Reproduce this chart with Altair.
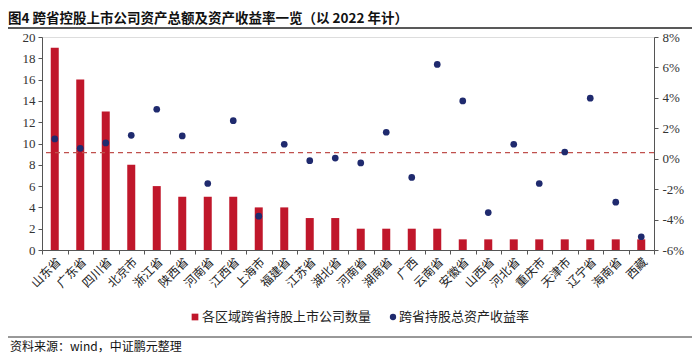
import altair as alt
import pandas as pd

provinces = ["山东省", "广东省", "四川省", "北京市", "浙江省", "陕西省", "河南省", "江西省",
             "上海市", "福建省", "江苏省", "湖北省", "河南省", "湖南省", "广西", "云南省",
             "安徽省", "山西省", "河北省", "重庆市", "天津市", "辽宁省", "海南省", "西藏"]
counts = [19, 16, 13, 8, 6, 5, 5, 5, 4, 4, 3, 3, 2, 2, 2, 2, 1, 1, 1, 1, 1, 1, 1, 1]
rates = [0.013, 0.0068, 0.0104, 0.0154, 0.0325, 0.015, -0.0163, 0.025,
         -0.0378, 0.0095, -0.0013, 0.0004, -0.0028, 0.0174, -0.0123, 0.062,
         0.038, -0.0354, 0.0095, -0.0163, 0.0044, 0.0398, -0.0286, -0.0513]
avg_rate = [0.004]
left_ticks = [0, 2, 4, 6, 8, 10, 12, 14, 16, 18, 20]
right_ticks = [-0.06, -0.04, -0.02, 0.0, 0.02, 0.04, 0.06, 0.08]
legend_names = ["各区域跨省持股上市公司数量", "跨省持股总资产收益率"]
title_text = "图4  跨省控股上市公司资产总额及资产收益率一览（以 2022 年计）"
source_text = "资料来源：wind，中证鹏元整理"

RED = "#C0172B"
NAVY = "#1F2A6E"
CJK = "Noto Sans CJK SC"
SERIF = "Liberation Serif"

df = pd.DataFrame({"idx": list(range(len(provinces))), "name": provinces,
                   "count": counts, "rate": rates})
avg_df = pd.DataFrame({"avg": avg_rate})
one = pd.DataFrame({"a": [0]})

label_expr = "[" + ",".join("'%s'" % p for p in provinces) + "][datum.value]"
x_axis = alt.Axis(title=None, labelExpr=label_expr, labelAngle=-45, labelAlign="right",
                  labelBaseline="top", labelFont=CJK, labelFontSize=12, labelColor="#222",
                  tickBand="extent", tickSize=4, domainColor="#555", tickColor="#555",
                  labelPadding=2)
x_enc = alt.X("idx:O", axis=x_axis, scale=alt.Scale(paddingInner=0, paddingOuter=0))

bars = alt.Chart(df).mark_bar(color=RED, size=8).encode(
    x=x_enc,
    y=alt.Y("count:Q", scale=alt.Scale(domain=[0, 20], nice=False),
            axis=alt.Axis(title=None, values=left_ticks, grid=False, labelFont=SERIF,
                          labelFontSize=13, labelColor="#333", domainColor="#555",
                          tickColor="#555", tickSize=4, labelPadding=3)),
)

r_axis = alt.Axis(title=None, orient="right", values=right_ticks,
                  labelExpr="replace(format(datum.value, '.0%'), '\u2212', '-')", grid=False,
                  labelFont=SERIF, labelFontSize=13, labelColor="#333", domainColor="#555",
                  tickColor="#555", tickSize=4, labelPadding=4)
r_scale = alt.Scale(domain=[-0.06, 0.08], nice=False)

rule = alt.Chart(avg_df).mark_rule(color="#C0504D", strokeDash=[5, 4], strokeWidth=1.2).encode(
    y=alt.Y("avg:Q", scale=r_scale, axis=r_axis)
)
points = alt.Chart(df).mark_circle(color=NAVY, size=45, opacity=1).encode(
    x=x_enc,
    y=alt.Y("rate:Q", scale=r_scale, axis=r_axis),
)
right_layer = alt.layer(rule, points)

title = alt.Chart(pd.DataFrame({"t": [title_text]})).mark_text(
    align="left", baseline="middle", font=CJK, fontSize=13.5, fontWeight="bold", color="#111"
).encode(x=alt.value(-34), y=alt.value(-18), text="t:N")
title_line = alt.Chart(one).mark_rule(color="#222", strokeWidth=1.5).encode(
    x=alt.value(-34), x2=alt.value(650), y=alt.value(-9))
foot_line = alt.Chart(one).mark_rule(color="#333", strokeWidth=1).encode(
    x=alt.value(-34), x2=alt.value(650), y=alt.value(300))
foot = alt.Chart(pd.DataFrame({"t": [source_text]})).mark_text(
    align="left", baseline="middle", font=CJK, fontSize=12, color="#111"
).encode(x=alt.value(-32), y=alt.value(310), text="t:N")

leg_sq = alt.Chart(one).mark_square(color=RED, size=45, opacity=1).encode(
    x=alt.value(153), y=alt.value(280))
leg_t1 = alt.Chart(pd.DataFrame({"t": [legend_names[0]]})).mark_text(
    align="left", baseline="middle", font=CJK, fontSize=13, color="#222"
).encode(x=alt.value(160), y=alt.value(280), text="t:N")
leg_dot = alt.Chart(one).mark_circle(color=NAVY, size=40, opacity=1).encode(
    x=alt.value(351), y=alt.value(280))
leg_t2 = alt.Chart(pd.DataFrame({"t": [legend_names[1]]})).mark_text(
    align="left", baseline="middle", font=CJK, fontSize=13, color="#222"
).encode(x=alt.value(357), y=alt.value(280), text="t:N")

chart = alt.layer(
    bars, right_layer, title, title_line, foot_line, foot, leg_sq, leg_t1, leg_dot, leg_t2
).resolve_scale(y="independent").properties(
    width=612, height=213,
    autosize=alt.AutoSizeParams(type="none"),
    padding={"left": 34, "top": 29, "right": 38, "bottom": 105},
).configure_view(stroke=None).configure(background="white")

chart.save("out.html", embed_options={"renderer": "svg", "actions": False})
